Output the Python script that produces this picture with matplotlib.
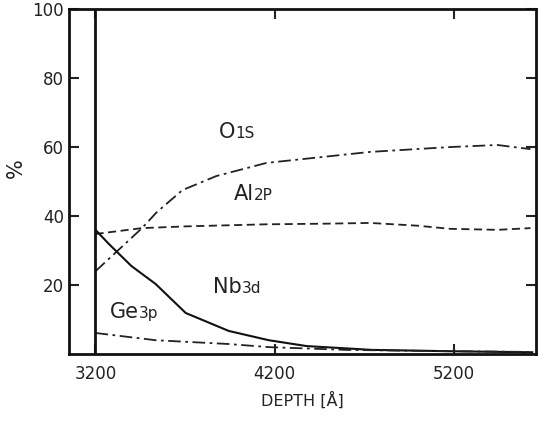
import matplotlib
matplotlib.use("Agg")
import matplotlib.pyplot as plt

# ---- data ----
o1s_x = [3200, 3460, 3540, 3685, 3875, 4155, 4735, 5180, 5445, 5630]
o1s_y = [24.0, 36.5, 41.0, 47.5, 51.6, 55.4, 58.6, 60.0, 60.6, 59.4]

al2p_x = [3200, 3460, 3700, 4150, 4500, 4735, 5000, 5180, 5445, 5630]
al2p_y = [34.8, 36.5, 37.0, 37.6, 37.8, 38.0, 37.2, 36.3, 36.0, 36.5]

nb3d_x = [3200, 3273, 3401, 3536, 3704, 3944, 4168, 4380, 4743, 5190, 5640]
nb3d_y = [36.0, 32.0, 25.5, 20.3, 11.9, 6.7, 4.0, 2.3, 1.2, 0.8, 0.5]

ge3p_x = [3200, 3536, 3944, 4168, 4600, 5200, 5640]
ge3p_y = [6.1, 4.0, 2.9, 2.0, 1.2, 0.8, 0.6]

xticks = [3200, 4200, 5200]
yticks = [20, 40, 60, 80, 100]

# label texts: (big part, small part, x split, baseline y)
labels = [("O", "1S", 3982, 62.6),
          ("Al", "2P", 4083, 44.6),
          ("Nb", "3d", 4016, 17.7),
          ("Ge", "3p", 3440, 10.4)]

plt.rcParams['font.family'] = ['DejaVu Sans']

fig = plt.figure(figsize=(5.42, 4.33), dpi=100)
ax = fig.add_axes([0.1273, 0.1824, 0.8617, 0.7966])

ax.plot(o1s_x, o1s_y, color='#222', lw=1.3, dashes=(7, 2.5, 1.5, 2.5))
ax.plot(al2p_x, al2p_y, color='#222', lw=1.3, dashes=(4.5, 2.5))
ax.plot(nb3d_x, nb3d_y, color='#111', lw=1.5)
ax.plot(ge3p_x, ge3p_y, color='#222', lw=1.3, dashes=(7, 2.5, 1.5, 2.5))
ax.axvline(3200, color='#111', lw=2.0)

for big, small, xs, yb in labels:
    ax.text(xs, yb, big, fontsize=15, ha='right', va='baseline', color='#222')
    ax.text(xs, yb, small, fontsize=11, ha='left', va='baseline', color='#222')

ax.set_xlim(3052, 5661)
ax.set_ylim(0, 100)
ax.set_xticks(xticks)
ax.set_yticks(yticks)
ax.tick_params(direction='in', length=7, width=1.5, labelsize=12,
               top=True, right=True, colors='#222')
ax.tick_params(axis='x', pad=8)
for s in ax.spines.values():
    s.set_linewidth(2.0)
    s.set_color('#111')

ax.set_xlabel('DEPTH [Å]', fontsize=11.5, color='#222', labelpad=6)
fig.text(16 / 542, 1 - 168 / 433, '%', fontsize=15, color='#222',
         rotation=90, ha='center', va='center')

fig.savefig('out.png', dpi=100)
